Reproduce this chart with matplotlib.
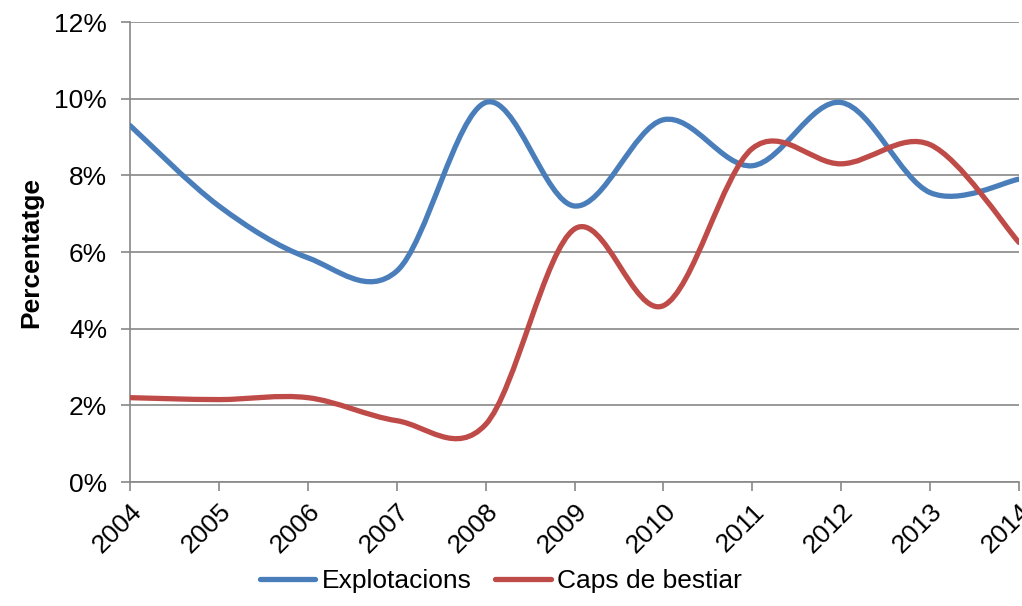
import numpy as np
import matplotlib.pyplot as plt
from matplotlib.path import Path
from matplotlib.patches import PathPatch
from matplotlib.lines import Line2D
from matplotlib.ticker import FuncFormatter

plt.rcParams['font.family'] = ['Liberation Sans', 'DejaVu Sans']

years = [2004, 2005, 2006, 2007, 2008, 2009, 2010, 2011, 2012, 2013, 2014]
explotacions = [9.3, 7.2, 5.85, 5.5, 9.9, 7.2, 9.45, 8.25, 9.9, 7.55, 7.9]
caps_bestiar = [2.2, 2.15, 2.2, 1.6, 1.5, 6.6, 4.6, 8.7, 8.3, 8.8, 6.25]


def smooth_path(x, y):
    # Excel style smoothed line: cubic bezier with catmull-rom control points
    pts = np.column_stack([x, y]).astype(float)
    ext = np.vstack([pts[0], pts, pts[-1]])
    verts = [pts[0]]
    codes = [Path.MOVETO]
    for i in range(len(pts) - 1):
        p0, p1, p2, p3 = ext[i], ext[i + 1], ext[i + 2], ext[i + 3]
        c1 = p1 + (p2 - p0) / 6
        c2 = p2 - (p3 - p1) / 6
        verts += [c1, c2, p2]
        codes += [Path.CURVE4] * 3
    return Path(verts, codes)


fig = plt.figure(figsize=(10.22, 6.06), dpi=100)
ax = fig.add_axes([130 / 1022, 1 - 482 / 606, 889 / 1022, 460 / 606])

colors = ["#4a7ebb", "#be4b48"]
for vals, c in zip([explotacions, caps_bestiar], colors):
    ax.add_patch(PathPatch(smooth_path(years, vals), facecolor="none",
                           edgecolor=c, lw=3.8, capstyle="round", zorder=3))

ax.set_xlim(2004, 2014)
ax.set_ylim(0, 12)
ax.set_yticks(np.arange(0, 13, 2))
ax.yaxis.set_major_formatter(FuncFormatter(lambda v, p: f"{v:.0f}%"))
ax.set_xticks(years)
ax.set_xticklabels([str(y) for y in years], rotation=45, ha="right",
                   rotation_mode="anchor")
ax.grid(axis="y", color="#888888", lw=1.2)
ax.set_axisbelow(True)
for s in ["top", "right"]:
    ax.spines[s].set_visible(False)
for s in ["left", "bottom"]:
    ax.spines[s].set_color("#888888")
    ax.spines[s].set_linewidth(1.2)
ax.tick_params(axis="both", colors="#888888", length=6.5, width=1.2,
               labelcolor="black", labelsize=19)
ax.tick_params(axis="x", pad=6)
ax.tick_params(axis="y", pad=10)
ax.set_ylabel("Percentatge", fontsize=19, fontweight="bold", labelpad=8)

handles = [Line2D([0], [0], color=c, lw=3.8, solid_capstyle="round")
           for c in colors]
fig.legend(handles, ["Explotacions", "Caps de bestiar"], loc="center",
           bbox_to_anchor=(0.49, 1 - 581 / 606), ncol=2, frameon=False,
           fontsize=19, handlelength=2.1, columnspacing=0.9,
           handletextpad=0.25)

fig.savefig("out.png", dpi=100)
